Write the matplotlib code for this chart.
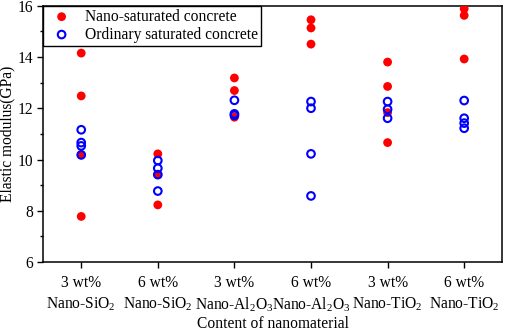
import matplotlib
matplotlib.use("Agg")
import matplotlib.pyplot as plt
from matplotlib.ticker import MultipleLocator

plt.rcParams['font.family'] = ['Liberation Serif', 'DejaVu Serif']
plt.rcParams['mathtext.fontset'] = 'custom'
plt.rcParams['mathtext.rm'] = 'Liberation Serif'
plt.rcParams['mathtext.it'] = 'Liberation Serif:italic'

# data
groups = ["3 wt%\nNano-SiO$_\\mathrm{2}$", "6 wt%\nNano-SiO$_\\mathrm{2}$",
          "3 wt%\nNano-Al$_\\mathrm{2}$O$_\\mathrm{3}$", "6 wt%\nNano-Al$_\\mathrm{2}$O$_\\mathrm{3}$",
          "3 wt%\nNano-TiO$_\\mathrm{2}$", "6 wt%\nNano-TiO$_\\mathrm{2}$"]
nano = [
    [14.15, 12.48, 10.18, 7.78],
    [10.22, 9.41, 8.23],
    [13.18, 12.69, 11.65],
    [15.45, 15.13, 14.50],
    [13.80, 12.85, 11.83, 10.66],
    [15.88, 15.62, 13.92],
]
ordinary = [
    [11.16, 10.66, 10.53, 10.18],
    [9.96, 9.66, 9.41, 8.77],
    [12.31, 11.78, 11.72],
    [12.26, 12.00, 10.22, 8.58],
    [12.26, 11.96, 11.61],
    [12.30, 11.61, 11.42, 11.22],
]

fs = 11.2
fig = plt.figure(figsize=(5.05, 3.33), dpi=100)
ax = fig.add_axes([0.085, 0.213, 0.91, 0.77])

for i, vals in enumerate(nano):
    ax.scatter([i] * len(vals), vals, s=40, color='#ff0000', edgecolors='none', zorder=3,
               label='Nano-saturated concrete' if i == 0 else None)
for i, vals in enumerate(ordinary):
    ax.scatter([i] * len(vals), vals, s=30, facecolors='none', edgecolors='#0000ff',
               linewidths=1.5, zorder=4,
               label='Ordinary saturated concrete' if i == 0 else None)

ax.set_xlim(-0.5, 5.5)
ax.set_ylim(6, 16)
ax.set_xticks(range(len(groups)))
ax.set_xticklabels(groups, fontsize=fs, linespacing=1.3)
ax.yaxis.set_major_locator(MultipleLocator(2))
ax.yaxis.set_minor_locator(MultipleLocator(1))
ax.tick_params(axis='both', direction='out', length=4, width=1, labelsize=fs)
ax.tick_params(axis='x', pad=5.5)
ax.tick_params(axis='y', pad=3)
ax.tick_params(axis='y', which='minor', length=2.5, width=1)
for sp in ax.spines.values():
    sp.set_linewidth(1.1)

ax.set_ylabel('Elastic modulus(GPa)', fontsize=fs)
ax.yaxis.set_label_coords(-0.06, 0.5)
ax.set_xlabel('Content of nanomaterial', fontsize=fs)
ax.xaxis.set_label_coords(0.5, -0.21)

leg = ax.legend(loc='upper left', fontsize=fs, frameon=True, fancybox=False,
                edgecolor='black', borderaxespad=0, handletextpad=0.5,
                labelspacing=0.12, borderpad=0.2, handlelength=2.0)
leg.get_frame().set_linewidth(1.0)
leg.get_frame().set_alpha(1)

fig.savefig('out.png', dpi=100)
